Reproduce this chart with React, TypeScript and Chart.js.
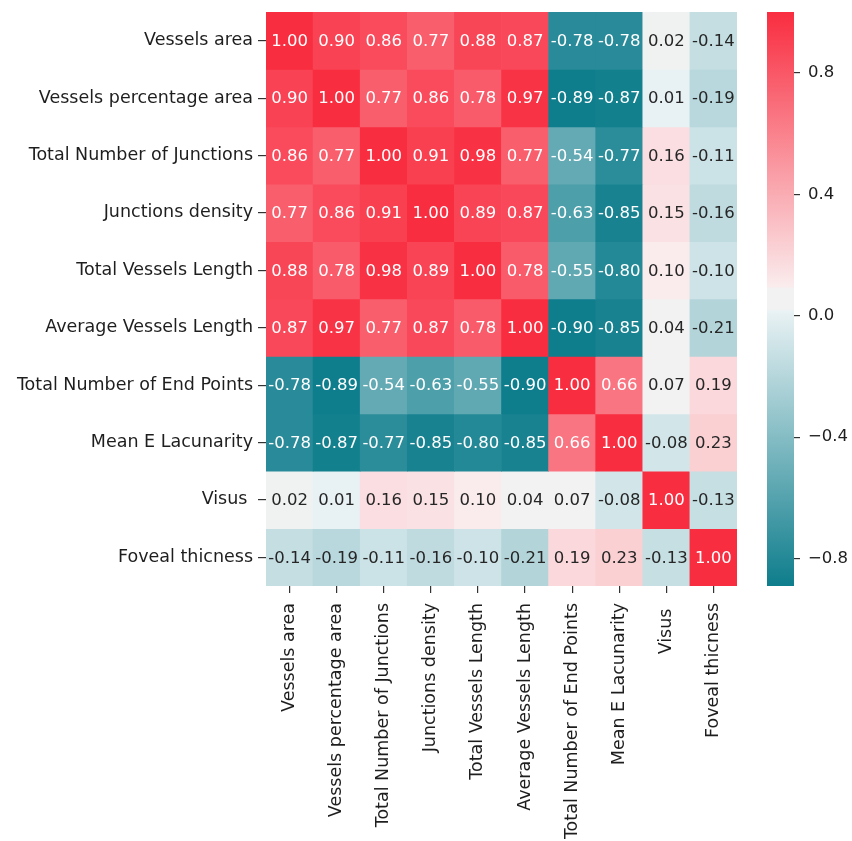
import React, { useEffect, useRef } from 'react';
import { Chart, registerables } from 'chart.js';
Chart.register(...registerables);

const labels = [
  'Vessels area',
  'Vessels percentage area',
  'Total Number of Junctions',
  'Junctions density',
  'Total Vessels Length',
  'Average Vessels Length',
  'Total Number of End Points',
  'Mean E Lacunarity',
  'Visus ',
  'Foveal thicness',
];

const rowVesselsArea = [1.0, 0.9, 0.86, 0.77, 0.88, 0.87, -0.78, -0.78, 0.02, -0.14];
const rowVesselsPct = [0.9, 1.0, 0.77, 0.86, 0.78, 0.97, -0.89, -0.87, 0.01, -0.19];
const rowTotalJunctions = [0.86, 0.77, 1.0, 0.91, 0.98, 0.77, -0.54, -0.77, 0.16, -0.11];
const rowJunctionsDensity = [0.77, 0.86, 0.91, 1.0, 0.89, 0.87, -0.63, -0.85, 0.15, -0.16];
const rowTotalLength = [0.88, 0.78, 0.98, 0.89, 1.0, 0.78, -0.55, -0.8, 0.1, -0.1];
const rowAvgLength = [0.87, 0.97, 0.77, 0.87, 0.78, 1.0, -0.9, -0.85, 0.04, -0.21];
const rowEndPoints = [-0.78, -0.89, -0.54, -0.63, -0.55, -0.9, 1.0, 0.66, 0.07, 0.19];
const rowLacunarity = [-0.78, -0.87, -0.77, -0.85, -0.8, -0.85, 0.66, 1.0, -0.08, 0.23];
const rowVisus = [0.02, 0.01, 0.16, 0.15, 0.1, 0.04, 0.07, -0.08, 1.0, -0.13];
const rowFoveal = [-0.14, -0.19, -0.11, -0.16, -0.1, -0.21, 0.19, 0.23, -0.13, 1.0];

const matrix = [
  rowVesselsArea,
  rowVesselsPct,
  rowTotalJunctions,
  rowJunctionsDensity,
  rowTotalLength,
  rowAvgLength,
  rowEndPoints,
  rowLacunarity,
  rowVisus,
  rowFoveal,
];

const cbMin = -0.89;
const cbMax = 1.0;
const cbTicks = [-0.8, -0.4, 0, 0.4, 0.8];

// diverging colormap: full teal -> light tint -> grey band -> light pink tint -> full red
const cmapStops: [number, number[]][] = [
  [0, [14, 125, 140]],
  [122 / 255, [233, 242, 244]],
  [123 / 255, [242, 242, 242]],
  [132 / 255, [242, 242, 242]],
  [133 / 255, [250, 236, 237]],
  [1, [249, 45, 64]],
];

function rgbFor(v: number): number[] {
  let t = (v - cbMin) / (cbMax - cbMin);
  t = Math.max(0, Math.min(1, t));
  for (let i = 1; i < cmapStops.length; i++) {
    const [t1, c1] = cmapStops[i];
    const [t0, c0] = cmapStops[i - 1];
    if (t <= t1) {
      const f = t1 === t0 ? 0 : (t - t0) / (t1 - t0);
      return c0.map((a, k) => a + (c1[k] - a) * f);
    }
  }
  return cmapStops[cmapStops.length - 1][1];
}
function colorFor(v: number): string {
  const c = rgbFor(v).map((x) => Math.round(x));
  return `rgb(${c[0]},${c[1]},${c[2]})`;
}
function lum(c: number[]): number {
  const l = c.map((x) => {
    const s = x / 255;
    return s <= 0.03928 ? s / 12.92 : Math.pow((s + 0.055) / 1.055, 2.4);
  });
  return 0.2126 * l[0] + 0.7152 * l[1] + 0.0722 * l[2];
}

const FONT = 'DejaVu Sans';
const FSIZE = 16.5;
const LSIZE = 17.5;
const TEXT = '#1e1e1e';

const PAGE_W = 852;
const PAGE_H = 841;
const W = 752;
const H = PAGE_H;
const AREA_LEFT = 266;
const AREA_RIGHT = 737;
const AREA_TOP = 12;
const AREA_BOTTOM = 586;
const CB_LEFT = 758;
const CBW = PAGE_W - CB_LEFT;
const CB_AREA_LEFT = 767;
const CB_AREA_RIGHT = 794;

export default function App() {
  const mainRef = useRef<HTMLCanvasElement>(null);
  const cbRef = useRef<HTMLCanvasElement>(null);

  useEffect(() => {
    const prevMargin = document.body.style.margin;
    document.body.style.margin = '0';

    const annotate = {
      id: 'annotate',
      afterDatasetsDraw(chart: any) {
        const ctx = chart.ctx;
        ctx.save();
        ctx.font = `${FSIZE}px "${FONT}"`;
        ctx.textAlign = 'center';
        ctx.textBaseline = 'middle';
        matrix.forEach((row, r) => {
          const meta = chart.getDatasetMeta(r);
          meta.data.forEach((el: any, c: number) => {
            const v = row[c];
            ctx.fillStyle = lum(rgbFor(v)) > 0.408 ? '#262626' : '#ffffff';
            ctx.fillText(v.toFixed(2), el.x, (el.y + el.base) / 2 + 1);
          });
        });
        ctx.restore();
      },
    };

    const main = new Chart(mainRef.current!, {
      type: 'bar',
      data: {
        labels,
        datasets: matrix.map((row, r) => ({
          data: row.map(() => [r, r + 1]),
          backgroundColor: row.map(colorFor),
          borderWidth: 0,
          barPercentage: 1,
          categoryPercentage: 1,
          grouped: false,
        })),
      } as any,
      options: {
        responsive: false,
        animation: false,
        devicePixelRatio: 1,
        events: [],
        layout: { padding: { top: AREA_TOP, right: W - AREA_RIGHT, left: 0, bottom: 0 } },
        plugins: { legend: { display: false }, tooltip: { enabled: false } },
        scales: {
          x: {
            type: 'category',
            offset: true,
            grid: { offset: false, drawOnChartArea: false, drawTicks: true, tickLength: 7, color: '#333333', lineWidth: 1.2 },
            border: { display: false },
            ticks: {
              autoSkip: false,
              maxRotation: 90,
              minRotation: 90,
              padding: 10,
              color: TEXT,
              font: { family: FONT, size: LSIZE },
            },
            afterFit: (s: any) => {
              s.height = H - AREA_BOTTOM;
              s.paddingLeft = 0;
              s.paddingRight = 0;
            },
          },
          y: {
            type: 'linear',
            min: 0,
            max: 10,
            reverse: true,
            grid: { drawOnChartArea: false, drawTicks: true, tickLength: 8, color: '#333333', lineWidth: 1.2 },
            border: { display: false },
            afterBuildTicks: (s: any) => {
              s.ticks = labels.map((_, i) => ({ value: i + 0.5 }));
            },
            ticks: {
              autoSkip: false,
              padding: 5,
              color: TEXT,
              font: { family: FONT, size: LSIZE },
              callback: (_v: any, i: number) => labels[i],
            },
            afterFit: (s: any) => {
              s.width = AREA_LEFT;
              s.paddingTop = 0;
              s.paddingBottom = 0;
            },
          },
        },
      } as any,
      plugins: [annotate],
    });

    const gradientPlugin = {
      id: 'cbGradient',
      beforeDatasetsDraw(chart: any) {
        const ctx = chart.ctx;
        const ys = chart.scales.y;
        const { left, right } = chart.chartArea;
        const top = ys.getPixelForValue(cbMax);
        const bottom = ys.getPixelForValue(cbMin);
        const g = ctx.createLinearGradient(0, top, 0, bottom);
        cmapStops.forEach(([t, c]) => {
          g.addColorStop(1 - t, `rgb(${c[0]},${c[1]},${c[2]})`);
        });
        ctx.save();
        ctx.fillStyle = g;
        ctx.fillRect(left, top, right - left, bottom - top);
        ctx.restore();
      },
    };

    const cb = new Chart(cbRef.current!, {
      type: 'scatter',
      data: { datasets: [] },
      options: {
        responsive: false,
        animation: false,
        devicePixelRatio: 1,
        events: [],
        layout: { padding: { top: AREA_TOP, left: CB_AREA_LEFT - CB_LEFT, right: 0, bottom: H - AREA_BOTTOM } },
        plugins: { legend: { display: false }, tooltip: { enabled: false } },
        scales: {
          x: { display: false },
          y: {
            type: 'linear',
            position: 'right',
            min: cbMin,
            max: cbMax,
            grid: { drawOnChartArea: false, drawTicks: true, tickLength: 6, color: '#333333', lineWidth: 1.2 },
            border: { display: false },
            afterBuildTicks: (s: any) => {
              s.ticks = cbTicks.map((v) => ({ value: v }));
            },
            ticks: {
              padding: 8,
              color: TEXT,
              font: { family: FONT, size: FSIZE },
              callback: (v: any) => (v < 0 ? '\u2212' : '') + Math.abs(v).toFixed(1),
            },
            afterFit: (s: any) => {
              s.width = CBW - (CB_AREA_RIGHT - CB_LEFT);
              s.paddingTop = 0;
              s.paddingBottom = 0;
            },
          },
        },
      } as any,
      plugins: [gradientPlugin],
    });

    return () => {
      main.destroy();
      cb.destroy();
      document.body.style.margin = prevMargin;
    };
  }, []);

  return (
    <div style={{ position: 'relative', width: PAGE_W, height: PAGE_H, overflow: 'hidden' }}>
      <canvas ref={mainRef} width={W} height={H} style={{ position: 'absolute', left: 0, top: 0, width: W, height: H }} />
      <canvas ref={cbRef} width={CBW} height={H} style={{ position: 'absolute', left: CB_LEFT, top: 0, width: CBW, height: H }} />
    </div>
  );
}
